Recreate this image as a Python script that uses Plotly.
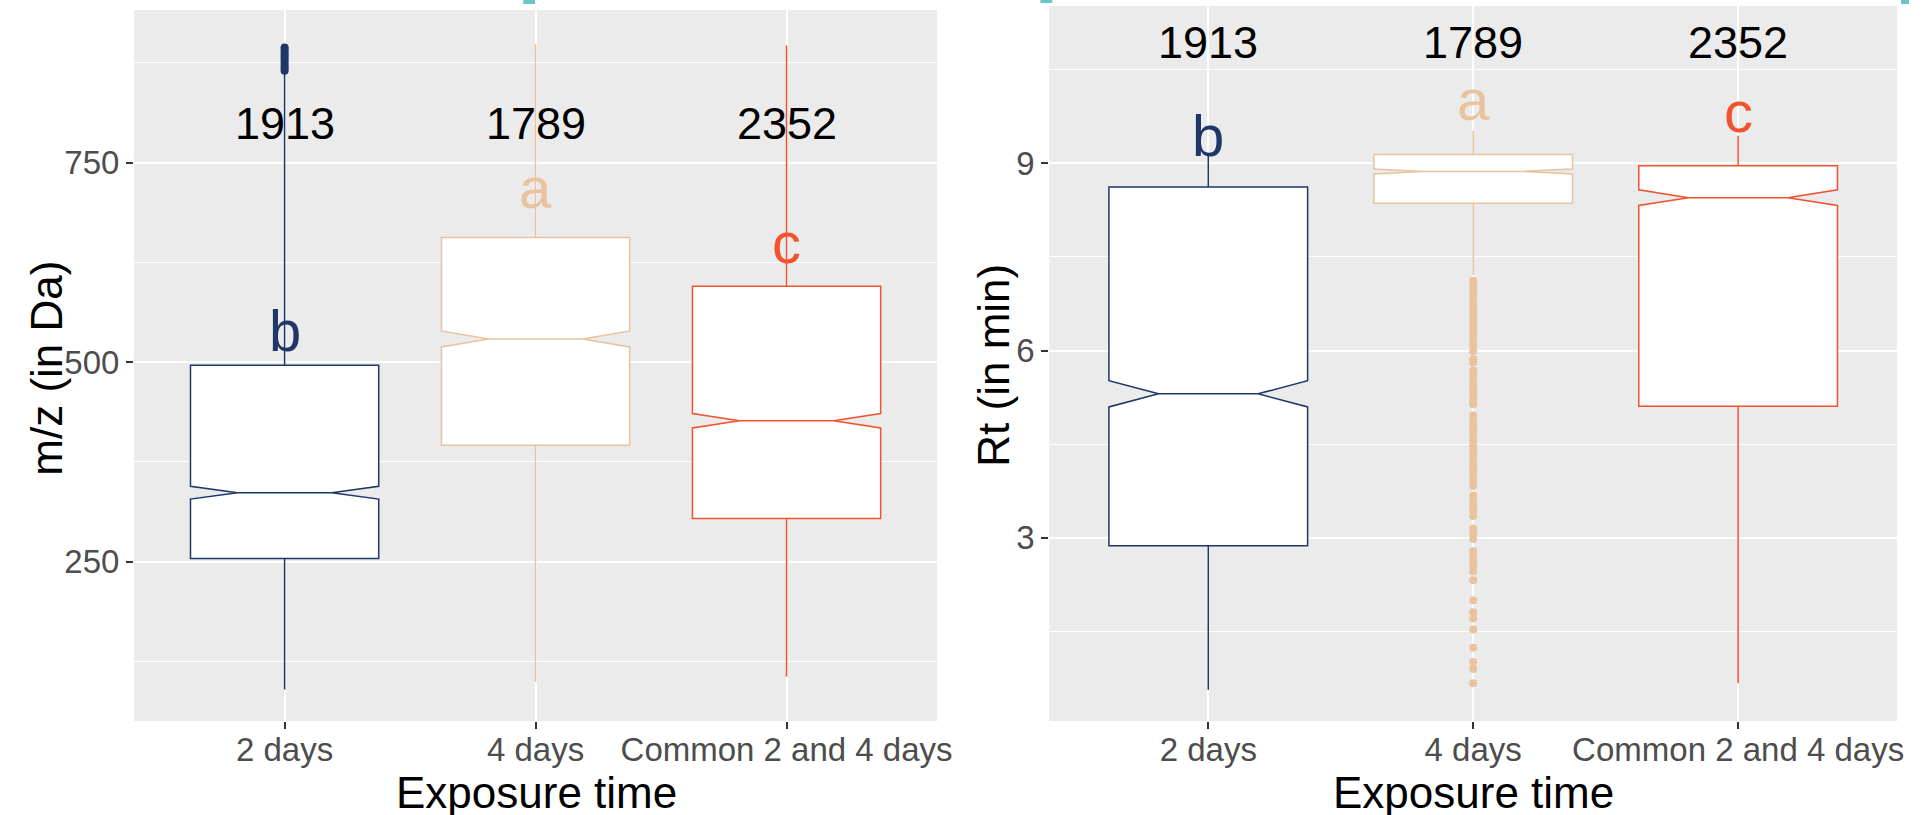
import plotly.graph_objects as go

W, H = 1923, 815

categories = ["2 days", "4 days", "Common 2 and 4 days"]
colors = ["#1F3767", "#E8C39E", "#F2522E"]
counts = ["1913", "1789", "2352"]
letters = ["b", "a", "c"]

# m/z panel (box statistics)
mz_q1 = [254, 396, 304]
mz_median = [336.5, 529, 426.5]
mz_q3 = [496, 656, 595]
mz_low = [90, 99.5, 106]
mz_high = [862, 898.5, 896.5]
mz_notch = [8, 10, 9]
mz_outliers_2d = [865, 868, 871, 874, 877, 880, 883, 886, 889, 892, 894]
mz_count_y = 799
mz_letter_y = [539, 719, 650]

# Rt panel
rt_q1 = [2.875, 8.36, 5.11]
rt_median = [5.307, 8.87, 8.45]
rt_q3 = [8.62, 9.14, 8.96]
rt_low = [0.566, 7.21, 0.67]
rt_high = [9.15, 9.52, 9.44]
rt_notch = [0.21, 0.04, 0.125]
rt_outliers_4d = [7.12, 7.04, 6.96, 6.88, 6.80, 6.72, 6.64, 6.56, 6.48, 6.40, 6.32,
                  6.24, 6.16, 6.08, 5.99, 5.86, 5.81, 5.68, 5.60, 5.52, 5.44, 5.36,
                  5.28, 5.21, 5.14, 4.96, 4.88, 4.80, 4.72, 4.64, 4.56, 4.48, 4.40,
                  4.32, 4.24, 4.16, 4.08, 4.00, 3.92, 3.83, 3.68, 3.60, 3.52, 3.44,
                  3.35, 3.15, 3.07, 2.98, 2.79, 2.71, 2.63, 2.55, 2.46, 2.32, 2.00,
                  1.81, 1.71, 1.53, 1.24, 1.01, 0.90, 0.67]
rt_count_y = 10.94
rt_letter_y = [9.44, 10.03, 9.83]

FONT = "Liberation Sans, Arial, sans-serif"

def px2x(p):
    return p / W

def px2y(p):
    return 1 - p / H

fig = go.Figure()

panels = [
    ("x", "y", mz_q1, mz_median, mz_q3, mz_low, mz_high, mz_notch),
    ("x2", "y2", rt_q1, rt_median, rt_q3, rt_low, rt_high, rt_notch),
]
for xa, ya, q1, med, q3, lo, hi, notch in panels:
    for i, cat in enumerate(categories):
        fig.add_trace(go.Box(
            x=[cat], q1=[q1[i]], median=[med[i]], q3=[q3[i]],
            lowerfence=[lo[i]], upperfence=[hi[i]], notchspan=[notch[i]],
            notched=True, notchwidth=0.25, boxpoints=False, whiskerwidth=0,
            width=0.75, fillcolor="white",
            line=dict(color=colors[i], width=1.5),
            xaxis=xa, yaxis=ya, showlegend=False, hoverinfo="skip"))

fig.add_trace(go.Scatter(
    x=[categories[0]] * len(mz_outliers_2d), y=mz_outliers_2d, mode="markers",
    marker=dict(color=colors[0], size=8), xaxis="x", yaxis="y",
    showlegend=False, hoverinfo="skip"))
fig.add_trace(go.Scatter(
    x=[categories[1]] * len(rt_outliers_4d), y=rt_outliers_4d, mode="markers",
    marker=dict(color=colors[1], size=8), xaxis="x2", yaxis="y2",
    showlegend=False, hoverinfo="skip"))

annotations = []
for xa, ya, cy, ly in [("x", "y", mz_count_y, mz_letter_y), ("x2", "y2", rt_count_y, rt_letter_y)]:
    for i, cat in enumerate(categories):
        annotations.append(dict(x=cat, y=cy, xref=xa, yref=ya, text=counts[i],
                                showarrow=False, yanchor="middle",
                                font=dict(family=FONT, size=45, color="black")))
        annotations.append(dict(x=cat, y=ly[i], xref=xa, yref=ya, text=letters[i],
                                showarrow=False, yanchor="middle",
                                font=dict(family=FONT, size=58, color=colors[i])))

# axis titles
annotations += [
    dict(x=px2x(540), y=px2y(792), xref="paper", yref="paper", text="Exposure time",
         showarrow=False, xanchor="center", yanchor="middle",
         font=dict(family=FONT, size=44, color="black")),
    dict(x=px2x(1484), y=px2y(792), xref="paper", yref="paper", text="Exposure time",
         showarrow=False, xanchor="center", yanchor="middle",
         font=dict(family=FONT, size=44, color="black")),
    dict(x=px2x(46), y=px2y(368), xref="paper", yref="paper", text="m/z (in Da)",
         showarrow=False, textangle=-90, xanchor="center", yanchor="middle",
         font=dict(family=FONT, size=44, color="black")),
    dict(x=px2x(1000), y=px2y(365), xref="paper", yref="paper", text="Rt (in min)",
         showarrow=False, textangle=-90, xanchor="center", yanchor="middle",
         font=dict(family=FONT, size=44, color="black")),
]

shapes = [
    dict(type="rect", xref="paper", yref="paper", x0=px2x(527), x1=px2x(539),
         y0=px2y(4), y1=1, fillcolor="#6CC6C6", line=dict(width=0)),
    dict(type="rect", xref="paper", yref="paper", x0=px2x(1048), x1=px2x(1060),
         y0=px2y(3), y1=1, fillcolor="#6CC6C6", line=dict(width=0)),
    dict(type="rect", xref="paper", yref="paper", x0=px2x(1915), x1=1,
         y0=px2y(4), y1=1, fillcolor="#6CC6C6", line=dict(width=0)),
]

xcommon = dict(type="category", categoryorder="array", categoryarray=categories,
               range=[-0.6, 2.6], showgrid=True, gridcolor="white", gridwidth=2,
               ticks="outside", ticklen=7, tickwidth=1.5, tickcolor="#333333",
               ticklabelstandoff=-8,
               tickfont=dict(family=FONT, size=33, color="#4D4D4D"),
               zeroline=False, showline=False, fixedrange=True)
ycommon = dict(showgrid=True, gridcolor="white", gridwidth=2,
               ticks="outside", ticklen=7, tickwidth=1.5, tickcolor="#333333",
               tickfont=dict(family=FONT, size=33, color="#4D4D4D"),
               zeroline=False, showline=False, fixedrange=True)

fig.update_layout(
    width=W, height=H,
    margin=dict(l=0, r=0, t=0, b=0),
    paper_bgcolor="white", plot_bgcolor="#EBEBEB",
    showlegend=False,
    xaxis=dict(domain=[px2x(135), px2x(944)], anchor="y", **xcommon),
    xaxis2=dict(domain=[px2x(1057), px2x(1911)], anchor="y2", **xcommon),
    yaxis=dict(domain=[px2y(721), px2y(10)], anchor="x", range=[50.5, 941],
               tick0=0, dtick=250,
               minor=dict(tick0=0, dtick=125, showgrid=True, gridcolor="white",
                          gridwidth=1, ticks=""),
               **ycommon),
    yaxis2=dict(domain=[px2y(721), px2y(6)], anchor="x2", range=[0.066, 11.52],
                tick0=0, dtick=3,
                minor=dict(tick0=0, dtick=1.5, showgrid=True, gridcolor="white",
                           gridwidth=1, ticks=""),
                **ycommon),
    annotations=annotations,
    shapes=shapes,
)

fig.write_html(
    "out.html",
    config={"displayModeBar": False},
    post_script="document.body.style.margin='0';"
                "document.documentElement.style.overflow='hidden';"
                "document.body.style.overflow='hidden';",
)
